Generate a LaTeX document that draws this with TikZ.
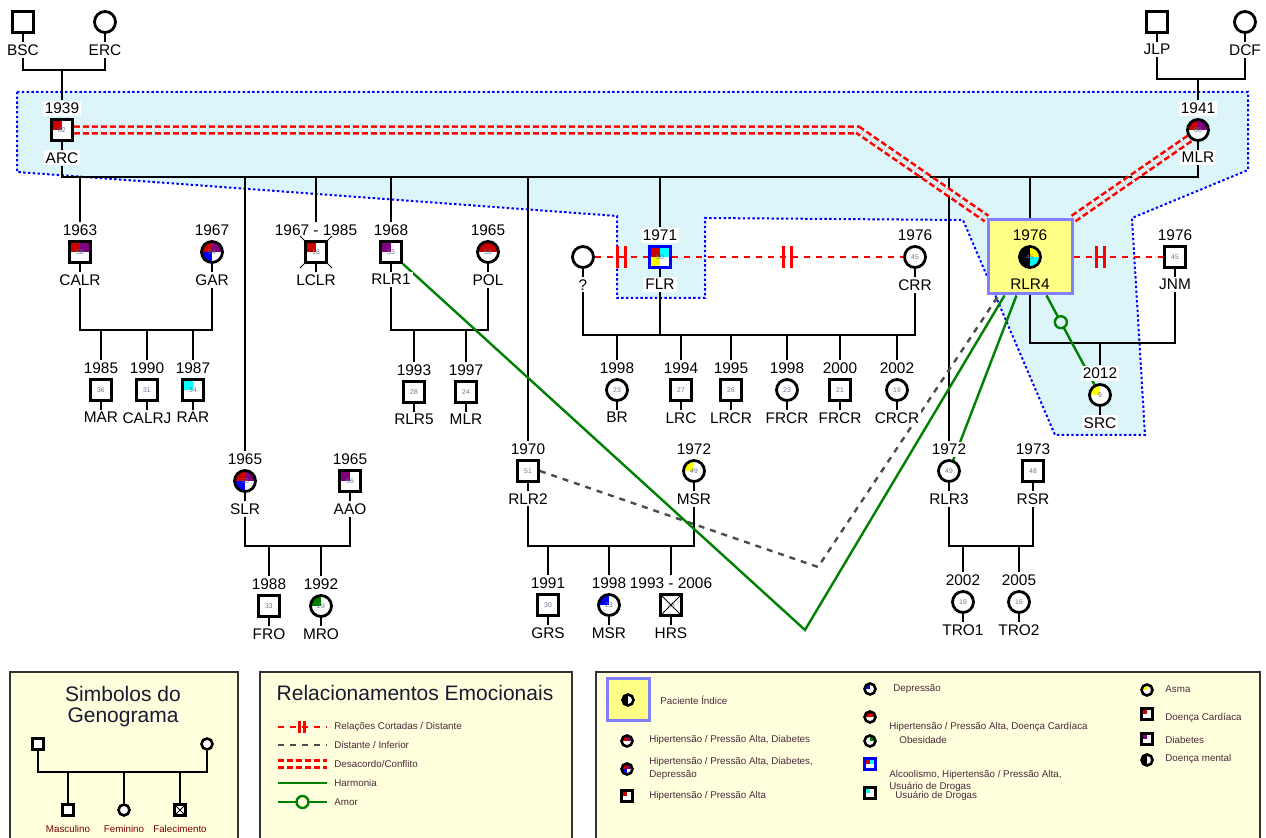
\documentclass[tikz,border=0pt]{standalone}
\usepackage{fontspec}
\setmainfont{Liberation Sans}
\usetikzlibrary{positioning}

\definecolor{hbg}{HTML}{DCF5F8}
\definecolor{legbg}{HTML}{FFFFDD}
\definecolor{hip}{HTML}{CC0000}
\definecolor{dia}{HTML}{800080}
\definecolor{dep}{HTML}{0000FF}
\definecolor{dro}{HTML}{00FFFF}
\definecolor{asm}{HTML}{FFFF00}
\definecolor{obe}{HTML}{008000}
\definecolor{agec}{HTML}{6A7390}
\definecolor{idxbg}{HTML}{FFFF88}
\definecolor{idxln}{HTML}{8080FF}
\definecolor{harmc}{HTML}{008000}
\definecolor{legtx}{HTML}{4A2A3A}
\definecolor{titc}{HTML}{1A1A33}

\pgfdeclarelayer{back}
\pgfdeclarelayer{lines}
\pgfsetlayers{back,lines,main}

\tikzset{
  pics/cutbar/.style={code={\draw[solid,red,line width=1.5pt] (-4,-11) -- (-4,11) (4,-11) -- (4,11);}},
}

% person: id, style, position, year, name, age
\newcommand{\pers}[6]{%
  \node[#2] (#1) at (#3) {#6};
  \node[yr, above=1pt of #1] (#1-y) {#4};
  \node[nm, below=4pt of #1] (#1-n) {#5};
  \draw[fam] (#1.south) -- (#1-n.north);
}

\begin{document}
\begin{tikzpicture}[x=0.5pt,y=-0.5pt,
  every node/.style={font=\fontsize{7.7}{9}\selectfont},
  sq/.style={draw, line width=1.4pt, fill=white, minimum size=10.5pt, inner sep=0pt,
    font=\fontsize{3.4}{3.4}\selectfont, text=agec},
  ci/.style={sq, circle},
  yr/.style={fill=white, inner sep=1pt},
  nm/.style={fill=white, inner sep=1pt},
  fam/.style={line width=1.4pt},
  hq/.style n args={4}{path picture={
    \fill[#1] (path picture bounding box.north west) rectangle (path picture bounding box.center);
    \fill[#2] (path picture bounding box.north east) rectangle (path picture bounding box.center);
    \fill[#3] (path picture bounding box.south west) rectangle (path picture bounding box.center);
    \fill[#4] (path picture bounding box.south east) rectangle (path picture bounding box.center);}},
  dead/.style={path picture={
    \draw[line width=.4pt] (path picture bounding box.north west) -- (path picture bounding box.south east)
      (path picture bounding box.north east) -- (path picture bounding box.south west);}},
  idxbox/.style={draw=idxln, fill=idxbg, line width=1.5pt, minimum width=42pt, minimum height=37pt},
  confl/.style={draw=red, line width=1.3pt, double=hbg, double distance=2pt, dash pattern=on 3pt off 1.5pt},
  cutl/.style={red, line width=1.2pt, dash pattern=on 3pt off 3pt},
  dist/.style={draw=black!70, line width=1.2pt, dash pattern=on 3pt off 3pt},
  harm/.style={harmc, line width=1.2pt},
  love/.style={harmc, line width=1.2pt},
  lovec/.style={circle, draw=harmc, line width=1.2pt, fill=hbg, minimum size=6pt, inner sep=0pt},
  region/.style={fill=hbg, draw=blue, line width=1pt, dash pattern=on 1.2pt off 1.2pt},
  legbox/.style={fill=legbg, draw=black!80, line width=1pt},
  lsq/.style={draw, line width=1.3pt, fill=white, minimum size=5.5pt, inner sep=0pt},
  lci/.style={lsq, circle},
  ltx/.style={font=\fontsize{4.9}{5.5}\selectfont, text=legtx, inner sep=0pt, anchor=west},
  ltitle/.style={font=\fontsize{10.5}{10.5}\selectfont, text=titc, align=center}]
\useasboundingbox (0,0) rectangle (1266,838);

% grandparents
\pers{bsc}{sq}{23,22}{}{BSC}{}
\pers{erc}{ci}{105,22}{}{ERC}{}
\pers{jlp}{sq}{1157,22}{}{JLP}{}
\pers{dcf}{ci}{1245,22}{}{DCF}{}

% parents
\pers{arc}{sq,hq={hip}{white}{white}{white}}{62,130}{1939}{ARC}{82}
\pers{mlr}{ci,hq={hip}{dia}{white}{white}}{1198,130}{1941}{MLR}{80}

% second generation
\pers{calr}{sq,hq={hip}{dia}{white}{white}}{80,252}{1963}{CALR}{58}
\pers{gar}{ci,hq={hip}{dia}{dep}{white}}{212,252}{1967}{GAR}{54}
\pers{lclr}{sq,hq={hip}{white}{white}{white}}{316,252}{1967 - 1985}{LCLR}{18}
\pers{rlr1}{sq,hq={dia}{white}{white}{white}}{391,252}{1968}{RLR1}{53}
\pers{pol}{ci,hq={hip}{hip}{white}{white}}{488,252}{1965}{POL}{56}
\pers{unk}{ci}{583,257}{}{?}{}
\pers{flr}{sq,draw=blue,hq={hip}{dro}{asm}{white}}{660,257}{1971}{FLR}{50}
\pers{crr}{ci}{915,257}{1976}{CRR}{45}
\pers{jnm}{sq}{1175,257}{1976}{JNM}{45}
\pers{slr}{ci,hq={hip}{dia}{dep}{white}}{245,481}{1965}{SLR}{56}
\pers{aao}{sq,hq={dia}{white}{white}{white}}{350,481}{1965}{AAO}{56}
\pers{rlr2}{sq}{528,471}{1970}{RLR2}{51}
\pers{msr1}{ci,hq={asm}{white}{white}{white}}{694,471}{1972}{MSR}{49}
\pers{rlr3}{ci}{949,471}{1972}{RLR3}{49}
\pers{rsr}{sq}{1033,471}{1973}{RSR}{48}

% index patient
\node[idxbox] (rlr4box) at (1030,257) {};
\node[ci,hq={black}{asm}{black}{dro}] (rlr4) at (1030,257) {45};
\node[above=1pt of rlr4, inner sep=1pt] (rlr4-y) {1976};
\node[below=4pt of rlr4, inner sep=1pt] (rlr4-n) {RLR4};

% third generation
\pers{mar}{sq}{101,390}{1985}{MAR}{36}
\pers{calrj}{sq}{147,390}{1990}{CALRJ}{31}
\pers{rar}{sq,hq={dro}{white}{white}{white}}{193,390}{1987}{RAR}{34}
\pers{rlr5}{sq}{414,392}{1993}{RLR5}{28}
\pers{mlr2}{sq}{466,392}{1997}{MLR}{24}
\pers{br}{ci}{617,390}{1998}{BR}{23}
\pers{lrc}{sq}{681,390}{1994}{LRC}{27}
\pers{lrcr}{sq}{731,390}{1995}{LRCR}{26}
\pers{frcr1}{ci}{787,390}{1998}{FRCR}{23}
\pers{frcr2}{sq}{840,390}{2000}{FRCR}{21}
\pers{crcr}{ci}{897,390}{2002}{CRCR}{19}
\pers{src}{ci,hq={asm}{white}{white}{white}}{1100,395}{2012}{SRC}{9}
\pers{fro}{sq}{269,606}{1988}{FRO}{33}
\pers{mro}{ci,hq={obe}{white}{white}{white}}{321,606}{1992}{MRO}{29}
\pers{grs}{sq}{548,605}{1991}{GRS}{30}
\pers{msr2}{ci,hq={dep}{white}{white}{white}}{609,605}{1998}{MSR}{23}
\pers{hrs}{sq,dead}{671,605}{1993 - 2006}{HRS}{13}
\pers{tro1}{ci}{963,602}{2002}{TRO1}{19}
\pers{tro2}{ci}{1019,602}{2005}{TRO2}{16}

\draw[line width=.5pt] (lclr.north west) -- ++(-4,-4) (lclr.north east) -- ++(4,-4)
  (lclr.south west) -- ++(-4,4) (lclr.south east) -- ++(4,4);

\begin{pgfonlayer}{lines}
% family lines
\draw[fam] (bsc-n.south) |- (erc-n.south |- 0,70) -- (erc-n.south);
\draw[fam] (arc-y.north) -- (arc-y.north |- 0,70);
\draw[fam] (jlp-n.south) |- (dcf-n.south |- 0,79) -- (dcf-n.south);
\draw[fam] (mlr-y.north) -- (mlr-y.north |- 0,79);
\draw[fam] (arc-n.south) |- (mlr-n.south |- 0,177) -- (mlr-n.south);
\foreach \k in {calr,lclr,rlr1,flr,slr,rlr2,rlr3}
  \draw[fam] (\k-y.north) -- (\k-y.north |- 0,177);
\draw[fam] (rlr4box.north) -- (rlr4box.north |- 0,177);

\draw[fam] (calr-n.south) |- (gar-n.south |- 0,330) -- (gar-n.south);
\foreach \k in {mar,calrj,rar}
  \draw[fam] (\k-y.north) -- (\k-y.north |- 0,330);
\draw[fam] (rlr1-n.south) |- (pol-n.south |- 0,330) -- (pol-n.south);
\foreach \k in {rlr5,mlr2}
  \draw[fam] (\k-y.north) -- (\k-y.north |- 0,330);
\draw[fam] (unk-n.south) |- (crr-n.south |- 0,335) -- (crr-n.south);
\draw[fam] (flr-n.south) -- (flr-n.south |- 0,335);
\foreach \k in {br,lrc,lrcr,frcr1,frcr2,crcr}
  \draw[fam] (\k-y.north) -- (\k-y.north |- 0,335);
\draw[fam] (rlr4box.south) |- (jnm-n.south |- 0,343) -- (jnm-n.south);
\draw[fam] (src-y.north) -- (src-y.north |- 0,343);
\draw[fam] (slr-n.south) |- (aao-n.south |- 0,546) -- (aao-n.south);
\foreach \k in {fro,mro}
  \draw[fam] (\k-y.north) -- (\k-y.north |- 0,546);
\draw[fam] (rlr2-n.south) |- (msr1-n.south |- 0,546) -- (msr1-n.south);
\foreach \k in {grs,msr2,hrs}
  \draw[fam] (\k-y.north) -- (\k-y.north |- 0,546);
\draw[fam] (rlr3-n.south) |- (rsr-n.south |- 0,546) -- (rsr-n.south);
\foreach \k in {tro1,tro2}
  \draw[fam] (\k-y.north) -- (\k-y.north |- 0,546);

% emotional relations
\coordinate (cbend) at (858,130);
\draw[confl] (arc.east) -- (cbend) -- (rlr4box.north west);
\draw[confl] (mlr.south west) -- (rlr4box.north east);
\draw[cutl] (unk) -- coordinate[pos=.5] (cut1) (flr);
\draw[cutl] (flr) -- coordinate[pos=.5] (cut2) (crr);
\draw[cutl] (rlr4box.east) -- coordinate[pos=.3] (cut3) (jnm);
\pic at (cut1) {cutbar};
\pic at (cut2) {cutbar};
\pic at (cut3) {cutbar};
\coordinate (dbend) at (818,567);
\draw[dist] (rlr2.east) -- (dbend) -- ([xshift=6pt]rlr4box.south west);
\coordinate (hbend) at (805,630);
\draw[harm] (rlr1.south east) -- (hbend) -- ([xshift=9pt]rlr4box.south west);
\draw[harm] (rlr3) -- ([xshift=15pt]rlr4box.south west);
\draw[love] ([xshift=30pt]rlr4box.south west) -- node[lovec,pos=.3]{} (src);
\end{pgfonlayer}

\begin{pgfonlayer}{back}
\path[region] (17,92) -- (1248,92) -- (1248,170) -- (1132,218) -- (1145,435) -- (1055,435)
  -- (963,220) -- (705,218) -- (705,298) -- (617,298) -- (617,216) -- (17,172) -- cycle;
\end{pgfonlayer}

% legend: symbols
\path[legbox] (10,838) |- (238,672) -- (238,838);
\node[ltitle] (symt) at (123,707) {Simbolos do\\Genograma};
\node[lsq] (lf) at (38,744) {};
\node[lci] (lm) at (207,744) {};
\node[lsq] (lk1) at (68,810) {};
\node[lci] (lk2) at (124,810) {};
\node[lsq,dead] (lk3) at (180,810) {};
\draw[fam] (lf) |- (lm |- 0,772) -- (lm);
\foreach \k in {lk1,lk2,lk3}
  \draw[fam] (\k) -- (\k |- 0,772);
\node[ltx,anchor=center,text=hip!60!black] at (68,829) {Masculino};
\node[ltx,anchor=center,text=hip!60!black] at (124,829) {Feminino};
\node[ltx,anchor=center,text=hip!60!black] at (180,829) {Falecimento};

% legend: relations
\path[legbox] (260,838) |- (572,672) -- (572,838);
\node[ltitle] (relt) at (415,693) {Relacionamentos Emocionais};
\draw[cutl] (278,727) -- (327,727);
\pic[scale=.55] at (302,727) {cutbar};
\node[ltx] at (334,727) {Relações Cortadas / Distante};
\draw[dist] (278,745) -- (327,745);
\node[ltx] at (334,745) {Distante / Inferior};
\draw[confl,double=legbg] (278,764) -- (327,764);
\node[ltx] at (334,764) {Desacordo/Conflito};
\draw[harm] (278,783) -- (327,783);
\node[ltx] at (334,783) {Harmonia};
\draw[love] (278,802) -- node[lovec,fill=legbg]{} (327,802);
\node[ltx] at (334,802) {Amor};

% legend: health
\path[legbox] (596,838) |- (1260,672) -- (1260,838);
\node[idxbox,minimum width=21pt,minimum height=21pt] (lidx) at (628,700) {};
\node[lci,hq={black}{white}{black}{white}] (lidxc) at (628,700) {};
\node[ltx] at (660,700) {Paciente Índice};
\node[lci,hq={hip}{dia}{white}{white}] (lh1) at (627,741) {};
\node[ltx] at (649,740) {Hipertensão / Pressão Alta, Diabetes};
\node[lci,hq={hip}{dia}{dep}{white}] (lh2) at (627,769) {};
\node[ltx] at (649,762) {Hipertensão / Pressão Alta, Diabetes,};
\node[ltx] at (649,775) {Depressão};
\node[lsq,hq={hip}{white}{white}{white}] (lh3) at (627,796) {};
\node[ltx] at (649,796) {Hipertensão / Pressão Alta};
\node[lci,hq={dep}{white}{white}{white}] (lh4) at (870,689) {};
\node[ltx] at (893,689) {Depressão};
\node[lci,hq={hip}{hip}{white}{white}] (lh5) at (870,717) {};
\node[ltx] at (889,727) {Hipertensão / Pressão Alta, Doença Cardíaca};
\node[lci,hq={white}{obe}{white}{white}] (lh6) at (870,741) {};
\node[ltx] at (899,740) {Obesidade};
\node[lsq,draw=blue,hq={hip}{dro}{white}{white}] (lh7) at (870,764) {};
\node[ltx] at (889,775) {Alcoolismo, Hipertensão / Pressão Alta,};
\node[ltx] at (889,787) {Usuário de Drogas};
\node[lsq,hq={dro}{white}{white}{white}] (lh8) at (870,793) {};
\node[ltx] at (895,796) {Usuário de Drogas};
\node[lci,hq={asm}{white}{white}{white}] (lh9) at (1147,690) {};
\node[ltx] at (1165,689) {Asma};
\node[lsq,hq={hip}{white}{white}{white}] (lh10) at (1147,714) {};
\node[ltx] at (1165,718) {Doença Cardíaca};
\node[lsq,hq={dia}{white}{white}{white}] (lh11) at (1147,739) {};
\node[ltx] at (1165,740) {Diabetes};
\node[lci,hq={black}{white}{black}{white}] (lh12) at (1147,760) {};
\node[ltx] at (1165,759) {Doença mental};
\end{tikzpicture}
\end{document}
